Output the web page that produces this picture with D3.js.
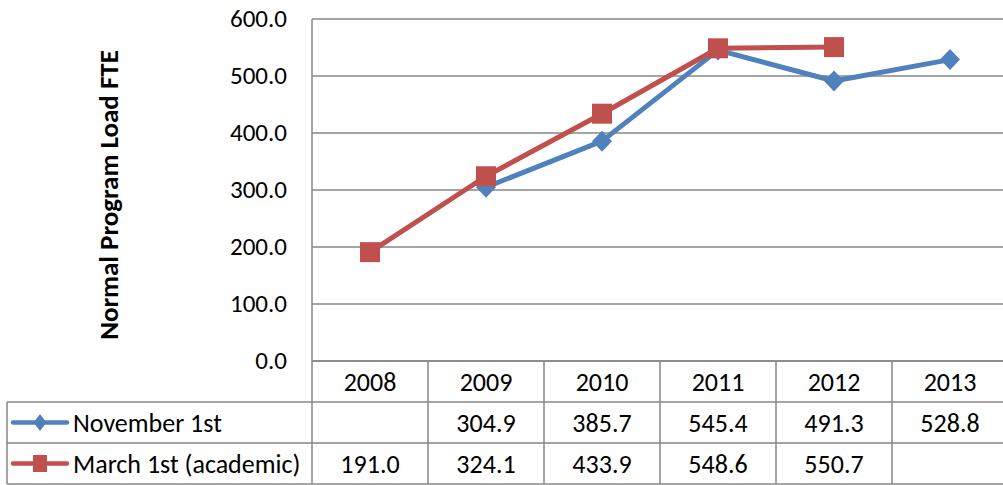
<!DOCTYPE html>
<html>
<head>
<meta charset="utf-8">
<script src="https://cdn.jsdelivr.net/npm/d3@7"></script>
<style>
  body { margin: 0; background: #fff; }
  text { font-family: Carlito, "Liberation Sans Narrow", "Open Sans", sans-serif; fill: #000; }
</style>
</head>
<body>
<div id="chart"></div>
<script>
// Chart data
const years = ['2008', '2009', '2010', '2011', '2012', '2013'];
const novemberValues = [null, 304.9, 385.7, 545.4, 491.3, 528.8];
const marchValues = [191.0, 324.1, 433.9, 548.6, 550.7, null];
const seriesNames = ['November 1st', 'March 1st (academic)'];
const yTicks = [0, 100, 200, 300, 400, 500, 600];

const W = 1003, H = 485;
const plot = { left: 312, right: 1008, top: 19, bottom: 361 };
const tableLeft = 7, rowH = 41;
const gridColor = '#878787';
const colors = ['#4F81BD', '#C0504D'];
const fontSize = 25;
const tableFont = 26;

const svg = d3.select('#chart').append('svg')
    .attr('width', W).attr('height', H);

const x = d3.scaleBand().domain(years).range([plot.left, plot.right]);
const y = d3.scaleLinear().domain([0, 600]).range([plot.bottom, plot.top]);

// marker shapes: diamond (half-width, half-height) and rectangle
const diamond = (hw, hh) => `M0,${-hh}L${hw},0L0,${hh}L${-hw},0Z`;
const rect = (w, h) => `M${-w / 2},${-h / 2}h${w}v${h}h${-w}Z`;
const markers = [diamond(10, 10.5), rect(20, 20)];
const legendMarkers = [diamond(6.5, 8.5), rect(14, 17)];

// gridlines
svg.append('g').selectAll('line').data(yTicks).enter().append('line')
    .attr('x1', plot.left).attr('x2', plot.right)
    .attr('y1', d => y(d)).attr('y2', d => y(d))
    .attr('stroke', gridColor).attr('stroke-width', 1.5);

// y tick labels
svg.append('g').selectAll('text').data(yTicks).enter().append('text')
    .attr('x', 287).attr('y', d => y(d))
    .attr('dy', '0.3em')
    .attr('text-anchor', 'end')
    .attr('font-size', fontSize)
    .text(d => d.toFixed(1));

// y axis title
svg.append('text')
    .attr('transform', `translate(109, ${(plot.top + plot.bottom) / 2 + 5}) rotate(-90)`)
    .attr('dy', '0.35em')
    .attr('text-anchor', 'middle')
    .attr('font-size', 27)
    .attr('font-weight', 'bold')
    .text('Normal Program Load FTE');

// data table
const rows = [plot.bottom, plot.bottom + rowH, plot.bottom + 2 * rowH, plot.bottom + 3 * rowH];
const table = svg.append('g').attr('stroke', gridColor).attr('stroke-width', 1.5);
table.append('line').attr('x1', plot.left).attr('x2', plot.right).attr('y1', rows[0]).attr('y2', rows[0]);
rows.slice(1).forEach(r => {
    table.append('line').attr('x1', tableLeft).attr('x2', plot.right).attr('y1', r).attr('y2', r);
});
table.append('line').attr('x1', plot.left).attr('x2', plot.left).attr('y1', plot.top).attr('y2', rows[3]);
table.append('line').attr('x1', tableLeft).attr('x2', tableLeft).attr('y1', rows[1]).attr('y2', rows[3]);
table.selectAll('.col').data(years.slice(1)).enter().append('line')
    .attr('x1', d => x(d)).attr('x2', d => x(d))
    .attr('y1', rows[0]).attr('y2', rows[3]);

const fmt = v => v == null ? '' : v.toFixed(1);
const cx = d => x(d) + x.bandwidth() / 2;

svg.append('g').selectAll('text').data(years).enter().append('text')
    .attr('x', cx).attr('y', rows[0] + rowH / 2).attr('dy', '0.35em')
    .attr('text-anchor', 'middle').attr('font-size', tableFont).text(d => d);

[novemberValues, marchValues].forEach((vals, i) => {
    svg.append('g').selectAll('text').data(years).enter().append('text')
        .attr('x', cx).attr('y', rows[i + 1] + rowH / 2).attr('dy', '0.35em')
        .attr('text-anchor', 'middle').attr('font-size', tableFont)
        .text((d, j) => fmt(vals[j]));
});

// legend keys in table
seriesNames.forEach((name, i) => {
    const ry = rows[i + 1] + rowH / 2;
    svg.append('line').attr('x1', 13).attr('x2', 67).attr('y1', ry).attr('y2', ry)
        .attr('stroke', colors[i]).attr('stroke-width', 4.5).attr('stroke-linecap', 'round');
    svg.append('path').attr('d', legendMarkers[i])
        .attr('transform', `translate(40,${ry})`)
        .attr('fill', colors[i]);
    svg.append('text').attr('x', 73).attr('y', ry).attr('dy', '0.35em')
        .attr('font-size', tableFont).text(name);
});

// series lines and markers
const line = d3.line()
    .defined(d => d.v != null)
    .x(d => cx(d.year))
    .y(d => y(d.v));

[novemberValues, marchValues].forEach((vals, i) => {
    const pts = years.map((yr, j) => ({ year: yr, v: vals[j] }));
    svg.append('path').datum(pts)
        .attr('d', line)
        .attr('fill', 'none')
        .attr('stroke', colors[i])
        .attr('stroke-width', 5)
        .attr('stroke-linejoin', 'round');
    svg.append('g').selectAll('path').data(pts.filter(p => p.v != null)).enter().append('path')
        .attr('d', markers[i])
        .attr('transform', d => `translate(${cx(d.year)},${y(d.v)})`)
        .attr('fill', colors[i]);
});
</script>
</body>
</html>
